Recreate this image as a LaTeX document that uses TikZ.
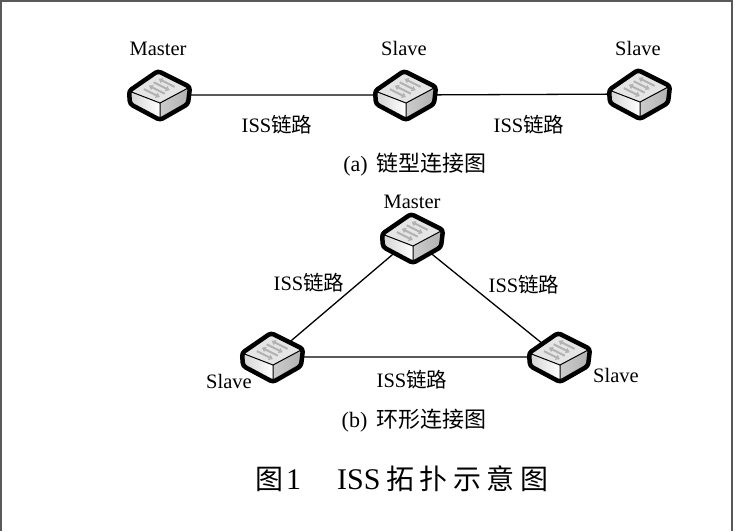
\documentclass[tikz,border=0pt]{standalone}
\usepackage{fontspec}
\setmainfont{Liberation Serif}
\newfontfamily\cjk{Noto Sans CJK SC}
\usetikzlibrary{backgrounds,arrows.meta}
\newcommand\tbx[1]{\makebox[33.5pt]{#1}}
\tikzset{
  lbl/.style={anchor=base, inner sep=0pt, font=\fontsize{20.5}{24}\selectfont},
  capstyle/.style={anchor=base, inner sep=0pt, font=\fontsize{22}{26}\selectfont},
  link/.style={line width=1.3pt, black},
  border/.style={line width=1.5pt, black!65},
  sarrow/.style={gray!60, line width=2pt, -{Triangle[length=4pt,width=5.5pt]}},
  switch/.pic={
    \coordinate (-c) at (0,0);
    \fill[left color=gray!35, right color=white] (-30,-4) -- (1,8) -- (1,25) -- (-29,9) -- cycle;
    \fill[left color=gray!40, right color=gray!62] (1,8) -- (31,-8) -- (29,9) -- (1,25) -- cycle;
    \fill[gray!20] (-30,-4) -- (-1,-24) -- (31,-8) -- (1,8) -- cycle;
    \draw[sarrow] (15.6,-8.1) -- (-0.4,-16.1);
    \draw[sarrow] (-5.3,-12.7) -- (10.7,-4.7);
    \draw[sarrow] (5.8,-1.3) -- (-10.2,-9.3);
    \draw[sarrow] (-15.1,-5.9) -- (0.9,2.1);
    \draw[line width=1pt] (-30,-4) -- (1,8) -- (31,-8) (1,8) -- (1,25);
    \draw[line width=4.5pt, rounded corners=3pt, line join=round]
      (-30,-4) -- (-1,-24) -- (31,-8) -- (29,9) -- (1,25) -- (-29,9) -- cycle;
  }
}
\begin{document}
\begin{tikzpicture}[x=1pt,y=-1pt]
\useasboundingbox (0,0) rectangle (735,531);
\draw[border] (1,531) -- (1,1) -- (732,1) -- (732,531);

% (a) chain
\pic (s1) at (159,95) {switch};
\pic (s2) at (405,95) {switch};
\pic (s3) at (639,94) {switch};
\node[lbl] (t1) at (158,55) {Master};
\node[lbl] (t2) at (404,55) {Slave};
\node[lbl] (t3) at (638,55) {Slave};
\node[lbl] (la1) at (277,132) {ISS{\cjk 链路}};
\node[lbl] (la2) at (529,132) {ISS{\cjk 链路}};
\node[capstyle] (capa) at (415,171) {(a)\hspace{9pt}{\cjk 链型连接图}};

% (b) ring
\pic (m) at (412,238) {switch};
\pic (l) at (272,357) {switch};
\pic (r) at (559,357) {switch};
\node[lbl] (tm) at (412,208) {Master};
\node[lbl] (tl) at (229,388) {Slave};
\node[lbl] (tr) at (616,382) {Slave};
\node[lbl] (lb1) at (309,290) {ISS{\cjk 链路}};
\node[lbl] (lb2) at (524,292) {ISS{\cjk 链路}};
\node[lbl] (lb3) at (412,387) {ISS{\cjk 链路}};
\node[capstyle] (capb) at (414,427) {(b)\hspace{9pt}{\cjk 环形连接图}};

\node[anchor=base west, inner sep=0pt, text=black, font=\fontsize{28}{32}\selectfont] (title) at (255,489)
  {{\cjk 图}\hspace{3pt}{\fontsize{30}{32}\selectfont 1\hspace{36pt}ISS}\hspace{3pt}{\cjk\tbx{拓}\tbx{扑}\tbx{示}\tbx{意}\tbx{图}}};

\begin{scope}[on background layer]
\draw[link] (s1-c) -- (s2-c) -- (s3-c);
\draw[link] (m-c) -- (l-c) -- (r-c) -- (m-c);
\end{scope}
\end{tikzpicture}
\end{document}
